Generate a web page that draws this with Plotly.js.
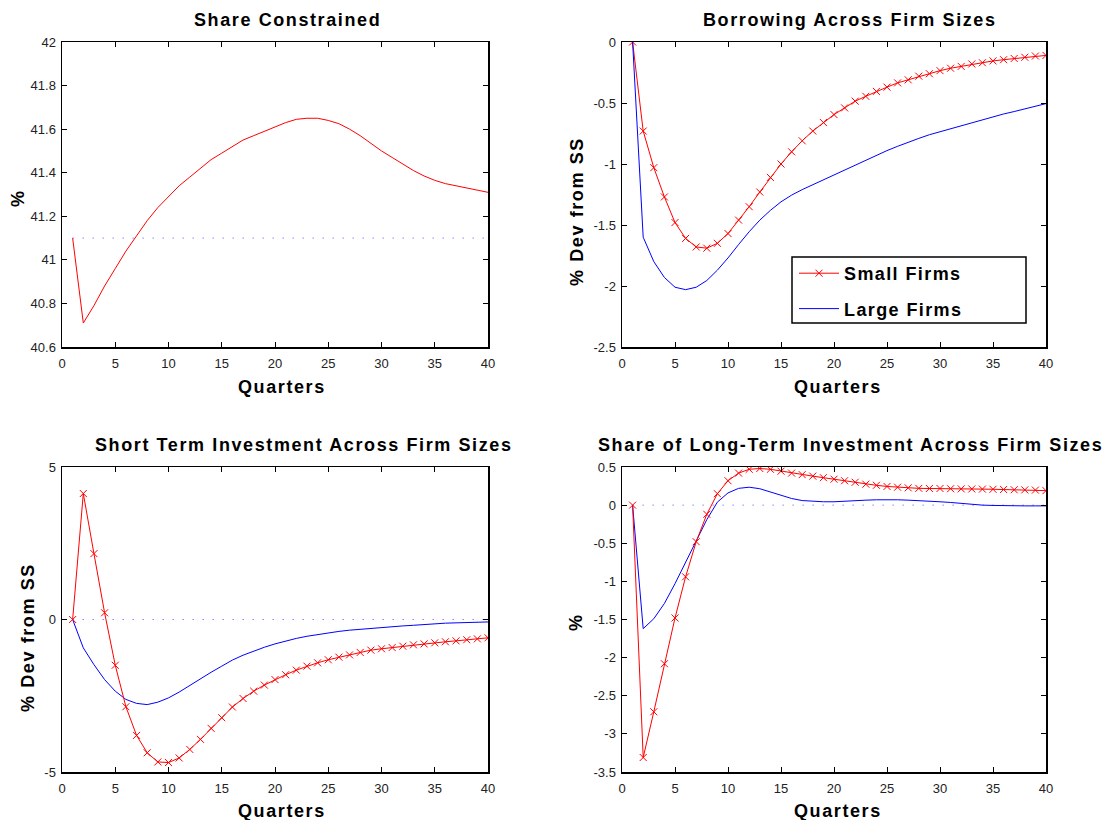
<!DOCTYPE html>
<html>
<head>
<meta charset="utf-8">
<script src="https://cdn.plot.ly/plotly-3.0.1.min.js"></script>
<style>
  html, body { margin: 0; padding: 0; background: #fff; }
  #chart { width: 1119px; height: 820px; }
  .annotation-text { letter-spacing: 1.6px; }
  .legendtext { letter-spacing: 1.4px; }
</style>
</head>
<body>
<div id="chart"></div>
<script>
// ---------------- DATA ----------------
const quarters = [1,2,3,4,5,6,7,8,9,10,11,12,13,14,15,16,17,18,19,20,
                  21,22,23,24,25,26,27,28,29,30,31,32,33,34,35,36,37,38,39,40];

const shareConstrained = [41.10,40.71,40.79,40.88,40.96,41.04,41.11,41.18,41.24,41.29,
                          41.34,41.38,41.42,41.46,41.49,41.52,41.55,41.57,41.59,41.61,
                          41.63,41.645,41.65,41.65,41.64,41.625,41.60,41.57,41.535,41.50,
                          41.47,41.44,41.41,41.385,41.365,41.35,41.34,41.33,41.32,41.31];
const shareSteadyState = 41.1;

const borrowSmall = [0,-0.73,-1.03,-1.27,-1.48,-1.61,-1.68,-1.69,-1.65,-1.57,
                     -1.46,-1.35,-1.23,-1.11,-1.00,-0.90,-0.81,-0.73,-0.66,-0.595,
                     -0.54,-0.485,-0.445,-0.405,-0.37,-0.335,-0.31,-0.28,-0.26,-0.235,
                     -0.215,-0.20,-0.18,-0.17,-0.155,-0.145,-0.135,-0.125,-0.115,-0.11];
const borrowLarge = [0,-1.60,-1.80,-1.93,-2.01,-2.03,-2.01,-1.955,-1.87,-1.77,
                     -1.66,-1.555,-1.46,-1.38,-1.31,-1.255,-1.21,-1.17,-1.13,-1.085,
                     -1.045,-1.005,-0.965,-0.925,-0.89,-0.855,-0.82,-0.79,-0.76,-0.735,
                     -0.71,-0.685,-0.66,-0.635,-0.61,-0.59,-0.57,-0.55,-0.525,-0.505];

const stInvSmall = [0,4.13,2.16,0.22,-1.50,-2.86,-3.80,-4.37,-4.67,-4.69,
                    -4.54,-4.26,-3.93,-3.57,-3.22,-2.87,-2.59,-2.35,-2.15,-1.97,
                    -1.81,-1.66,-1.53,-1.42,-1.32,-1.235,-1.16,-1.08,-1.005,-0.96,
                    -0.92,-0.875,-0.83,-0.80,-0.765,-0.73,-0.70,-0.665,-0.635,-0.60];
const stInvLarge = [0,-0.93,-1.48,-1.97,-2.35,-2.62,-2.75,-2.79,-2.71,-2.57,
                    -2.38,-2.16,-1.95,-1.73,-1.53,-1.33,-1.17,-1.03,-0.91,-0.80,
                    -0.70,-0.62,-0.55,-0.49,-0.44,-0.39,-0.35,-0.32,-0.28,-0.25,
                    -0.23,-0.21,-0.19,-0.16,-0.14,-0.12,-0.11,-0.10,-0.09,-0.08];

const ltShareSmall = [0,-3.31,-2.71,-2.08,-1.48,-0.94,-0.48,-0.12,0.15,0.32,
                      0.42,0.47,0.48,0.47,0.445,0.42,0.40,0.38,0.36,0.34,
                      0.32,0.30,0.275,0.26,0.245,0.235,0.227,0.22,0.218,0.218,
                      0.215,0.213,0.212,0.21,0.208,0.205,0.202,0.20,0.197,0.19];
const ltShareLarge = [0,-1.62,-1.49,-1.29,-1.03,-0.75,-0.46,-0.19,0.04,0.16,
                      0.22,0.235,0.215,0.17,0.127,0.087,0.06,0.048,0.044,0.044,
                      0.048,0.057,0.065,0.07,0.074,0.07,0.065,0.06,0.052,0.044,
                      0.035,0.022,0.009,0.0,-0.004,-0.008,-0.01,-0.01,-0.01,-0.01];
const zeroLevel = 0;

const xTickVals = [0,5,10,15,20,25,30,35,40];
const xTickText = ['0','5','10','15','20','25','30','35','40'];
const y1TickVals = [40.6,40.8,41,41.2,41.4,41.6,41.8,42];
const y1TickText = ['40.6','40.8','41','41.2','41.4','41.6','41.8','42'];
const y2TickVals = [-2.5,-2,-1.5,-1,-0.5,0];
const y2TickText = ['-2.5','-2','-1.5','-1','-0.5','0'];
const y3TickVals = [-5,0,5];
const y3TickText = ['-5','0','5'];
const y4TickVals = [-3.5,-3,-2.5,-2,-1.5,-1,-0.5,0,0.5];
const y4TickText = ['-3.5','-3','-2.5','-2','-1.5','-1','-0.5','0','0.5'];

const panelTitles = ['Share Constrained','Borrowing Across Firm Sizes',
                     'Short Term Investment Across Firm Sizes',
                     'Share of Long-Term Investment Across Firm Sizes'];
const xLabel = 'Quarters';
const yLabels = ['%','% Dev from SS','% Dev from SS','%'];
const seriesNames = ['Small Firms','Large Firms'];

// ---------------- STYLE ----------------
const RED = '#ff0000', BLUE = '#0000ff', DOTC = '#4d4dff';
const FONT = 'Liberation Sans, Arial, sans-serif';
const first = quarters[0], last = quarters[quarters.length - 1];

function smallTrace(y, xa, ya, showLeg) {
  return {x: quarters, y: y, xaxis: xa, yaxis: ya, type: 'scatter', mode: 'lines+markers',
          name: seriesNames[0], showlegend: showLeg, legendgroup: 'small', legendrank: 1,
          line: {color: RED, width: 1},
          marker: {symbol: 'x-thin-open', size: 7, color: RED, line: {color: RED, width: 1}}};
}
function largeTrace(y, xa, ya, showLeg) {
  return {x: quarters, y: y, xaxis: xa, yaxis: ya, type: 'scatter', mode: 'lines',
          name: seriesNames[1], showlegend: showLeg, legendgroup: 'large', legendrank: 2,
          line: {color: BLUE, width: 1}};
}
function refLine(level, xa, ya) {
  return {x: [first, last], y: [level, level], xaxis: xa, yaxis: ya, type: 'scatter',
          mode: 'lines', showlegend: false, hoverinfo: 'skip',
          line: {color: DOTC, width: 1, dash: '1px,9px'}};
}

const traces = [
  refLine(shareSteadyState, 'x', 'y'),
  {x: quarters, y: shareConstrained, xaxis: 'x', yaxis: 'y', type: 'scatter', mode: 'lines',
   showlegend: false, line: {color: RED, width: 1}},
  smallTrace(borrowSmall, 'x2', 'y2', true),
  largeTrace(borrowLarge, 'x2', 'y2', true),
  refLine(zeroLevel, 'x3', 'y3'),
  largeTrace(stInvLarge, 'x3', 'y3', false),
  smallTrace(stInvSmall, 'x3', 'y3', false),
  refLine(zeroLevel, 'x4', 'y4'),
  largeTrace(ltShareLarge, 'x4', 'y4', false),
  smallTrace(ltShareSmall, 'x4', 'y4', false)
];

const W = 1119, H = 820;
const px = v => v / W, py = v => 1 - v / H;
const colL = [px(62), px(488)], colR = [px(622), px(1046)];
const rowT = [py(347), py(42)], rowB = [py(772), py(467)];

function xAxis(domain, anchor) {
  return {domain: domain, anchor: anchor, range: [0, 40], tickmode: 'array',
          tickvals: xTickVals, ticktext: xTickText, ticks: 'inside', ticklen: 5,
          tickwidth: 1, tickcolor: '#000', mirror: 'allticks', showline: true,
          linecolor: '#000', linewidth: 1.5, showgrid: false, zeroline: false,
          tickfont: {family: FONT, size: 13, color: '#222'}, ticklabelstandoff: 4,
          fixedrange: true};
}
function yAxis(domain, anchor, range, vals, text) {
  return {domain: domain, anchor: anchor, range: range, tickmode: 'array',
          tickvals: vals, ticktext: text, ticks: 'inside', ticklen: 5,
          tickwidth: 1, tickcolor: '#000', mirror: 'allticks', showline: true,
          linecolor: '#000', linewidth: 1.5, showgrid: false, zeroline: false,
          tickfont: {family: FONT, size: 13, color: '#222'}, ticklabelstandoff: 2,
          fixedrange: true};
}

function ann(text, xPix, yPix, angle) {
  return {text: text, xref: 'paper', yref: 'paper', x: px(xPix), y: py(yPix),
          xanchor: 'center', yanchor: 'middle', showarrow: false, textangle: angle || 0,
          font: {family: FONT, size: 18, color: '#000', weight: 'bold'}};
}

const annotations = [
  ann(panelTitles[0], 287, 20),
  ann(panelTitles[1], 850, 20),
  ann(panelTitles[2], 304, 445),
  ann(panelTitles[3], 850, 445),
  ann(xLabel, 282, 387),
  ann(xLabel, 838, 387),
  ann(xLabel, 282, 811),
  ann(xLabel, 838, 811),
  ann(yLabels[0], 18, 198, -90),
  ann(yLabels[1], 577, 212, -90),
  ann(yLabels[2], 28, 638, -90),
  ann(yLabels[3], 576, 622, -90)
];

// legend frame (drawn as a layout shape so it can be as wide as the original)
const legendFrame = {type: 'rect', xref: 'paper', yref: 'paper',
  x0: px(792), x1: px(1026), y0: py(323), y1: py(257),
  line: {color: '#000', width: 1.5}, fillcolor: '#fff', layer: 'below'};

const layout = {
  width: W, height: H, margin: {l: 0, r: 0, t: 0, b: 0},
  paper_bgcolor: '#fff', plot_bgcolor: 'rgba(0,0,0,0)',
  font: {family: FONT, color: '#000'},
  showlegend: true,
  legend: {x: px(794), y: py(255), xanchor: 'left', yanchor: 'top',
           bgcolor: 'rgba(0,0,0,0)', borderwidth: 0,
           font: {family: FONT, size: 18, color: '#000', weight: 'bold'},
           itemwidth: 40, traceorder: 'grouped', tracegroupgap: 9},
  shapes: [legendFrame],
  xaxis: xAxis(colL, 'y'),
  yaxis: yAxis(rowT, 'x', [40.6, 42], y1TickVals, y1TickText),
  xaxis2: xAxis(colR, 'y2'),
  yaxis2: yAxis(rowT, 'x2', [-2.5, 0], y2TickVals, y2TickText),
  xaxis3: xAxis(colL, 'y3'),
  yaxis3: yAxis(rowB, 'x3', [-5, 5], y3TickVals, y3TickText),
  xaxis4: xAxis(colR, 'y4'),
  yaxis4: yAxis(rowB, 'x4', [-3.5, 0.5], y4TickVals, y4TickText),
  annotations: annotations
};

Plotly.newPlot('chart', traces, layout, {displayModeBar: false, staticPlot: true});
</script>
</body>
</html>
